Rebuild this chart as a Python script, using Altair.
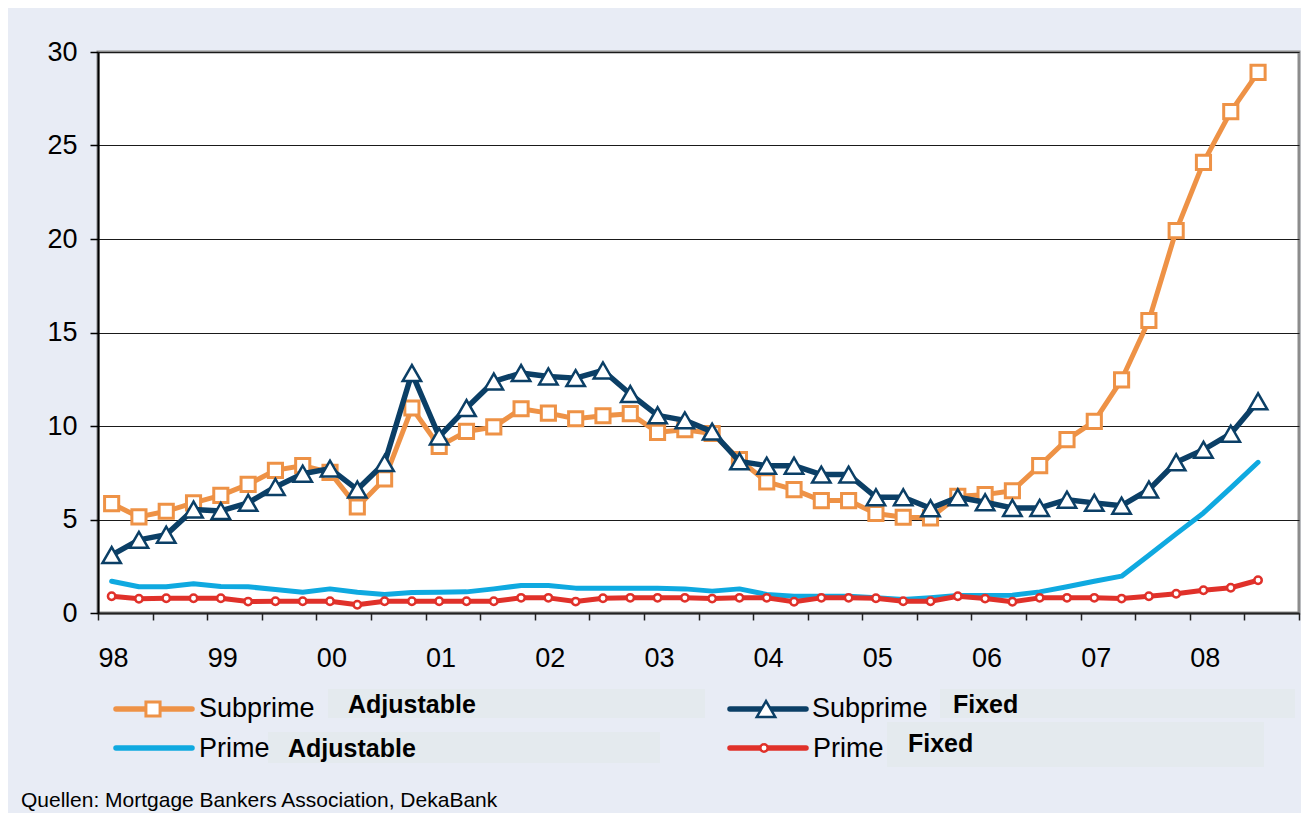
import altair as alt
import pandas as pd

# ---------------- data ----------------
year_labels = ["98", "99", "00", "01", "02", "03", "04", "05", "06", "07", "08"]
# quarterly observations 1998Q1 .. 2008Q3
quarters = [f"{1998 + i // 4}Q{i % 4 + 1}" for i in range(43)]

subprime_adjustable = [5.85, 5.14, 5.44, 5.89, 6.29, 6.88, 7.63, 7.88, 7.52, 5.67, 7.17,
                       10.96, 8.91, 9.71, 9.95, 10.92, 10.69, 10.39, 10.55, 10.66, 9.66, 9.80,
                       9.60, 8.20, 7.01, 6.60, 6.01, 6.01, 5.32, 5.12, 5.09, 6.24, 6.33,
                       6.54, 7.88, 9.27, 10.25, 12.47, 15.64, 20.45, 24.10, 26.81, 28.91]
subprime_fixed = [3.10, 3.91, 4.19, 5.53, 5.46, 5.89, 6.74, 7.45, 7.72, 6.60, 8.02,
                  12.83, 9.44, 10.96, 12.38, 12.83, 12.65, 12.56, 12.97, 11.71, 10.57, 10.30,
                  9.70, 8.11, 7.88, 7.88, 7.40, 7.40, 6.19, 6.19, 5.60, 6.19, 5.92,
                  5.62, 5.62, 6.06, 5.89, 5.74, 6.60, 8.06, 8.73, 9.59, 11.32]
prime_adjustable = [1.70, 1.40, 1.40, 1.56, 1.42, 1.40, 1.26, 1.11, 1.29, 1.11, 0.99,
                    1.10, 1.11, 1.13, 1.29, 1.47, 1.47, 1.33, 1.33, 1.33, 1.33, 1.29,
                    1.17, 1.29, 0.99, 0.90, 0.90, 0.90, 0.81, 0.72, 0.81, 0.93, 0.93,
                    0.95, 1.13, 1.40, 1.70, 1.97, 3.09, 4.23, 5.35, 6.69, 8.06]
prime_fixed = [0.90, 0.76, 0.79, 0.79, 0.79, 0.61, 0.63, 0.63, 0.63, 0.44, 0.63,
               0.63, 0.63, 0.63, 0.63, 0.81, 0.81, 0.61, 0.79, 0.81, 0.81, 0.81,
               0.77, 0.81, 0.81, 0.60, 0.81, 0.81, 0.79, 0.63, 0.63, 0.90, 0.77,
               0.60, 0.81, 0.81, 0.81, 0.77, 0.90, 1.03, 1.22, 1.35, 1.75]

legend_main = ["Subprime", "Subprime", "Prime", "Prime"]
legend_bold = ["Adjustable", "Fixed", "Adjustable", "Fixed"]
source_text = "Quellen: Mortgage Bankers Association, DekaBank"

FONT = "Liberation Sans"
ORANGE = "#EE9246"
NAVY = "#0B3F66"
CYAN = "#0FA9E0"
RED = "#E0312A"
BOX = "#E4EAEE"

SQ = 200
TRI = 340
CIR = 55

def frame(values):
    return pd.DataFrame({"q": quarters, "t": [i + 0.5 for i in range(len(values))], "v": values})

label_array = "[" + ",".join(f"'{s}'" for s in year_labels) + "]"
x_enc = alt.X(
    "t:Q",
    scale=alt.Scale(domain=[0, 44], nice=False, zero=False),
    axis=alt.Axis(
        values=list(range(0, 45, 2)),
        labelExpr=f"datum.value % 4 == 0 && datum.value < 44 ? {label_array}[datum.value / 4] : ''",
        labelAlign="left", labelFlush=False, labelOverlap=False,
        labelFont=FONT, labelFontSize=27, labelColor="black", labelPadding=25,
        tickSize=7, tickColor="#222222", tickWidth=1.5,
        domainColor="#222222", domainWidth=2, grid=False, title=None,
    ),
)
y_enc = alt.Y(
    "v:Q",
    scale=alt.Scale(domain=[0, 30], nice=False),
    axis=alt.Axis(
        values=[0, 5, 10, 15, 20, 25, 30],
        grid=True, gridColor="#1a1a1a", gridWidth=1,
        labelFont=FONT, labelFontSize=27, labelColor="black", labelPadding=13,
        tickSize=8, tickColor="black", tickWidth=1.5,
        domainColor="black", domainWidth=2, title=None,
    ),
)

def series(values, color, width, shape=None, size=None, pw=None):
    d = frame(values)
    layers = [alt.Chart(d).mark_line(color=color, strokeWidth=width, strokeJoin="round",
                                      strokeCap="round").encode(x=x_enc, y=y_enc)]
    if shape:
        layers.append(alt.Chart(d).mark_point(shape=shape, size=size, filled=True, fill="white",
                                              stroke=color, strokeWidth=pw, opacity=1)
                      .encode(x=x_enc, y=y_enc))
    return layers

layers = []
layers += series(prime_adjustable, CYAN, 5)
layers += series(prime_fixed, RED, 5, "circle", CIR, 2.5)
layers += series(subprime_adjustable, ORANGE, 5, "square", SQ, 3)
layers += series(subprime_fixed, NAVY, 5.5, "triangle-up", TRI, 2.5)

one = pd.DataFrame({"k": [0]})

def rect(x, x2, y, y2):
    return alt.Chart(one).mark_rect(color=BOX).encode(
        x=alt.value(x), x2=alt.value(x2), y=alt.value(y), y2=alt.value(y2))

def text(s, x, y, size, bold=False):
    return alt.Chart(pd.DataFrame({"s": [s]})).mark_text(
        align="left", baseline="alphabetic", font=FONT, fontSize=size,
        fontWeight="bold" if bold else "normal", color="black").encode(
        x=alt.value(x), y=alt.value(y), text="s:N")

def sample(color, x, x2, y, shape=None, size=None, pw=None, at=None):
    out = [alt.Chart(one).mark_rule(color=color, strokeWidth=5.5, strokeCap="round").encode(
        x=alt.value(x), x2=alt.value(x2), y=alt.value(y))]
    if shape:
        out.append(alt.Chart(one).mark_point(shape=shape, size=size, filled=True, fill="white",
                                             stroke=color, strokeWidth=pw, opacity=1).encode(
            x=alt.value(at), y=alt.value(y)))
    return out

# legend boxes
layers += [rect(230, 607, 637, 666), rect(170, 562, 680, 711),
           rect(842, 1197, 637, 666), rect(789, 1166, 670, 715)]
# legend samples
layers += sample(ORANGE, 18, 94, 657, "square", SQ, 3, 55)
layers += sample(CYAN, 18, 94, 696)
layers += sample(NAVY, 632, 708, 657, "triangle-up", TRI, 2.5, 668)
layers += sample(RED, 632, 708, 696, "circle", CIR, 2.5, 666)
# legend texts
layers += [text(legend_main[0], 101, 665, 27), text(legend_bold[0], 250, 661, 25, True),
           text(legend_main[1], 714, 665, 27), text(legend_bold[1], 855, 661, 25, True),
           text(legend_main[2], 101, 705, 27), text(legend_bold[2], 190, 705, 25, True),
           text(legend_main[3], 715, 705, 27), text(legend_bold[3], 810, 700, 25, True)]
# source
layers.append(text(source_text, -77, 755, 21))

chart = alt.layer(*layers).properties(
    width=1201, height=561,
    padding={"left": 90, "top": 44, "right": 2, "bottom": 200},
    autosize=alt.AutoSizeParams(type="none"),
    background="#E8ECF5",
).configure_view(fill="white", stroke="#8c8c8c", strokeWidth=3)

chart.save("out.html", embed_options={"renderer": "svg", "actions": False})
